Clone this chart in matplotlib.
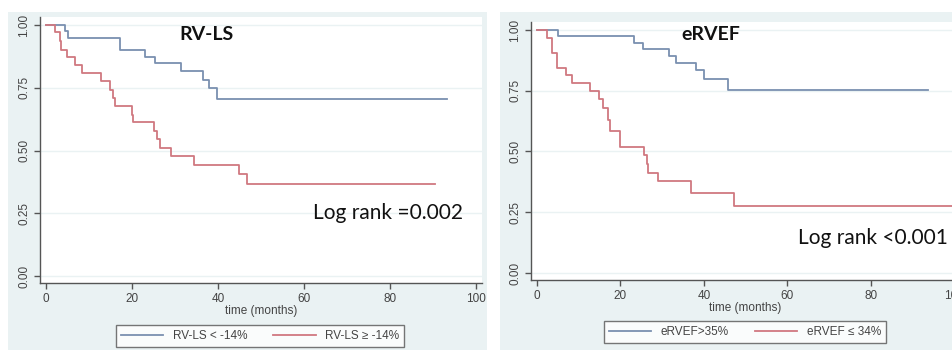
import numpy as np
import matplotlib
matplotlib.use("Agg")
import matplotlib.pyplot as plt
from matplotlib.patches import Rectangle
from matplotlib.lines import Line2D

# Kaplan-Meier steps (time in months, survival)
rvls_good_t = [0, 4.5, 5.0, 17.2, 23.0, 25.3, 31.5, 36.6, 38.0, 39.8, 93.2]
rvls_good_s = [1.0, 0.975, 0.95, 0.90, 0.872, 0.848, 0.818, 0.782, 0.749, 0.706, 0.706]
rvls_bad_t = [0, 2.1, 3.3, 3.5, 4.8, 6.7, 8.3, 12.9, 14.9, 15.5, 16.0, 19.9, 20.2,
              25.1, 25.7, 26.4, 29.0, 34.4, 44.9, 46.7, 90.5]
rvls_bad_s = [1.0, 0.972, 0.935, 0.90, 0.872, 0.842, 0.808, 0.775, 0.742, 0.709, 0.676,
              0.642, 0.612, 0.576, 0.545, 0.509, 0.479, 0.443, 0.407, 0.367, 0.367]

ervef_good_t = [0, 5.1, 23.2, 25.5, 31.7, 33.3, 38.1, 40.0, 45.8, 93.8]
ervef_good_s = [1.0, 0.975, 0.948, 0.920, 0.893, 0.865, 0.835, 0.797, 0.755, 0.755]
ervef_bad_t = [0, 2.3, 3.5, 4.7, 6.9, 8.5, 12.7, 14.8, 15.8, 17.0, 17.4, 20.0,
               25.6, 26.3, 26.7, 28.9, 36.9, 47.3, 99.8]
ervef_bad_s = [1.0, 0.966, 0.907, 0.842, 0.815, 0.780, 0.75, 0.714, 0.681, 0.629, 0.585,
               0.519, 0.485, 0.45, 0.412, 0.379, 0.330, 0.275, 0.275]

yticks = [0, 0.25, 0.5, 0.75, 1.0]
ytick_labels = ["0.00", "0.25", "0.50", "0.75", "1.00"]
xticks = [0, 20, 40, 60, 80, 100]

BLUE = "#7a90b0"
RED = "#d07880"
BG = "#eaf2f3"
AX = "#555555"

W, H = 953, 350
fig = plt.figure(figsize=(W / 100, H / 100), dpi=100)
fig.patch.set_facecolor("white")

def px(x0, y0, x1, y1):
    # pixel box -> figure fraction [left, bottom, width, height]
    return [x0 / W, 1 - y1 / H, (x1 - x0) / W, (y1 - y0) / H]

# gray graph regions
for box in [(8, 12, 487, 350), (500, 12, 960, 350)]:
    l, b, w, h = px(*box)
    fig.patches.append(Rectangle((l, b), w, h, transform=fig.transFigure,
                                 facecolor=BG, edgecolor="none", zorder=-5))

def panel(pos, xlim, ylim, t1, s1, t2, s2, title, title_xy, note, note_xy,
          lab1, lab2, leg_center, colspace):
    ax = fig.add_axes(pos)
    ax.set_zorder(1)
    ax.set_facecolor("white")
    for yt in yticks:
        ax.axhline(yt, color=BG, lw=1.0, zorder=1)
    ax.step(t1, s1, where="post", color=BLUE, lw=1.3, zorder=3)
    ax.step(t2, s2, where="post", color=RED, lw=1.3, zorder=3)
    ax.set_xlim(*xlim)
    ax.set_ylim(*ylim)
    ax.set_xticks(xticks)
    ax.set_yticks(yticks)
    ax.set_yticklabels(ytick_labels, rotation=90, va="center")
    ax.tick_params(colors=AX, labelcolor="#444444", labelsize=8.5, length=4,
                   width=1, pad=3)
    for lab in ax.get_xticklabels() + ax.get_yticklabels():
        lab.set_family("Liberation Sans")
    for s in ["top", "right"]:
        ax.spines[s].set_visible(False)
    for s in ["left", "bottom"]:
        ax.spines[s].set_color(AX)
        ax.spines[s].set_linewidth(1.0)
    ax.set_xlabel("time (months)", fontsize=8.5, color="#444444",
                  family="Liberation Sans", labelpad=0)
    ax.text((title_xy[0] - pos[0] * W) / (pos[2] * W),
            1 - (title_xy[1] - (1 - pos[1] - pos[3]) * H) / (pos[3] * H),
            title, transform=ax.transAxes, ha="center", va="center",
            fontsize=14, fontweight="bold", family="Lato", color="#111111")
    ax.text((note_xy[0] - pos[0] * W) / (pos[2] * W),
            1 - (note_xy[1] - (1 - pos[1] - pos[3]) * H) / (pos[3] * H),
            note, transform=ax.transAxes, ha="left", va="center",
            fontsize=15, family="Lato", color="#111111", clip_on=False)
    handles = [Line2D([], [], color=BLUE, lw=1.3), Line2D([], [], color=RED, lw=1.3)]
    leg = fig.legend(handles, [lab1, lab2], ncol=2, loc="center",
                     bbox_to_anchor=(leg_center[0] / W, 1 - leg_center[1] / H),
                     borderaxespad=0, handlelength=3.6, handletextpad=0.8,
                     columnspacing=colspace, frameon=True, fancybox=False,
                     prop={"family": "Liberation Sans", "size": 8.5},
                     borderpad=0.4)
    leg.set_zorder(2)
    leg.get_frame().set_edgecolor(AX)
    leg.get_frame().set_linewidth(1.0)
    for t in leg.get_texts():
        t.set_color("#444444")
    return ax

panel(px(40, 17, 482, 283), (-1.4, 101.4), (-0.028, 1.032),
      rvls_good_t, rvls_good_s, rvls_bad_t, rvls_bad_s,
      "RV-LS", (207, 34), "Log rank =0.002", (313, 213),
      "RV-LS < -14%", "RV-LS \u2265 -14%", (260, 336), 2.2)

panel(px(531, 22, 960, 280), (-1.44, 101.4), (-0.029, 1.033),
      ervef_good_t, ervef_good_s, ervef_bad_t, ervef_bad_s,
      "eRVEF", (711, 34), "Log rank <0.001", (798, 238),
      "eRVEF>35%", "eRVEF \u2264 34%", (745, 332), 2.2)

fig.savefig("out.png", dpi=100)
